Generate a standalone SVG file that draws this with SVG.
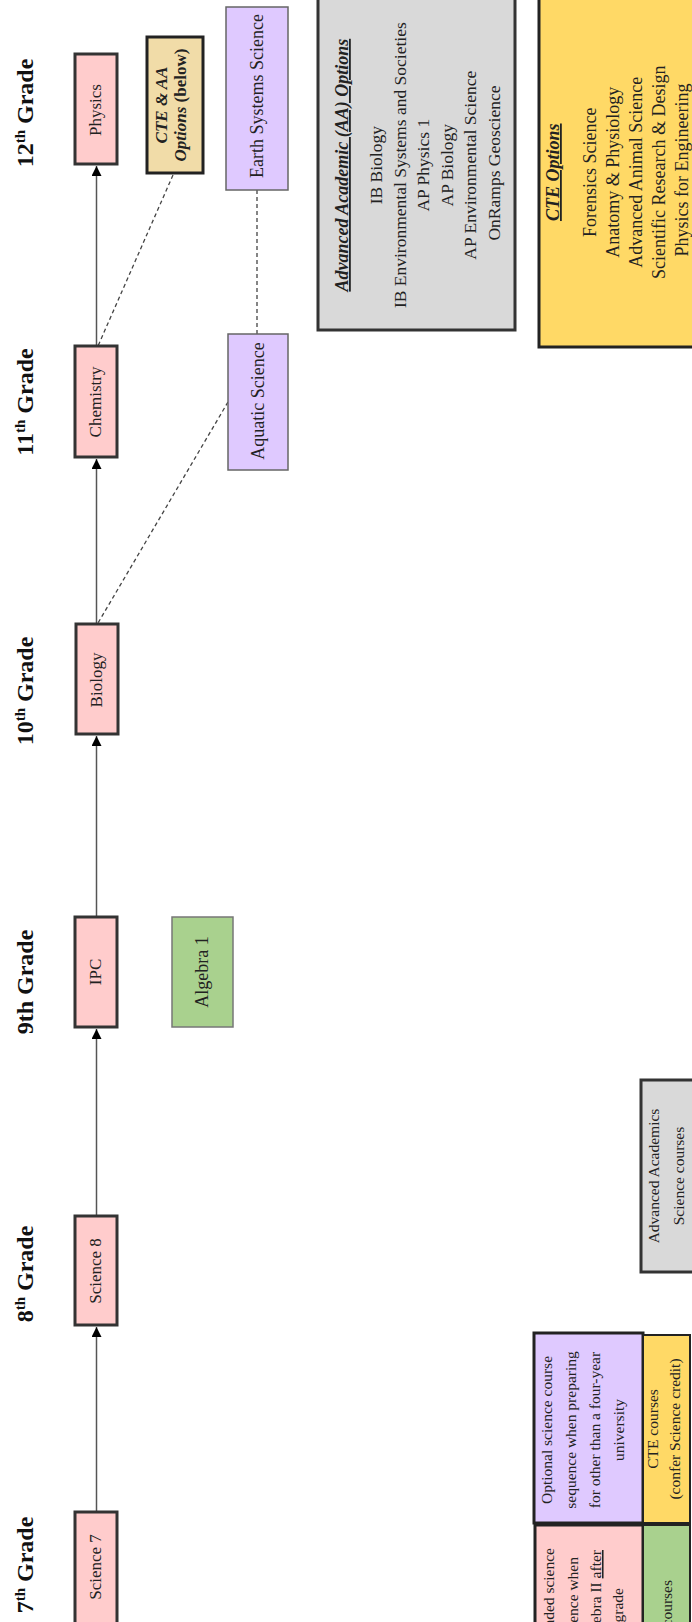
<svg xmlns="http://www.w3.org/2000/svg" width="692" height="1622" viewBox="0 0 692 1622">
<style>
text{font-family:"Liberation Serif","Times New Roman",serif;fill:#222}
.grade{font-weight:bold;font-size:24px;fill:#111}
.sup{font-size:15px}
.lbl{font-size:17px;text-anchor:middle}
.opt{font-size:18px;text-anchor:middle}
.leg{font-size:15.5px;text-anchor:middle}
.pink{fill:#ffcccc;stroke:#333;stroke-width:3}
.purple{fill:#dfc9ff;stroke:#666;stroke-width:1.5}
.green{fill:#a9d18e;stroke:#777;stroke-width:1.5}
.tan{fill:#f1dca8;stroke:#222;stroke-width:3}
.gray{fill:#d9d9d9;stroke:#333;stroke-width:3}
.yellow{fill:#ffd966;stroke:#222;stroke-width:3}
.conn{stroke:#555;stroke-width:1.5;fill:none}
.dash{stroke:#444;stroke-width:1.3;stroke-dasharray:4 3;fill:none}
.bi{font-weight:bold;font-style:italic}
.u{text-decoration:underline}
</style>
<defs>
<marker id="arr" markerUnits="userSpaceOnUse" markerWidth="10" markerHeight="10" refX="10" refY="5" orient="auto">
<path d="M0,0 L10,5 L0,10 z" fill="#000"/>
</marker>
</defs>

<g id="grades">
<text class="grade" text-anchor="middle" transform="translate(33,113) rotate(-90)">12<tspan class="sup" dy="-8">th</tspan><tspan dy="8"> Grade</tspan></text>
<text class="grade" text-anchor="middle" transform="translate(33,402) rotate(-90)">11<tspan class="sup" dy="-8">th</tspan><tspan dy="8"> Grade</tspan></text>
<text class="grade" text-anchor="middle" transform="translate(33,691) rotate(-90)">10<tspan class="sup" dy="-8">th</tspan><tspan dy="8"> Grade</tspan></text>
<text class="grade" text-anchor="middle" transform="translate(33,982) rotate(-90)">9th Grade</text>
<text class="grade" text-anchor="middle" transform="translate(33,1274) rotate(-90)">8<tspan class="sup" dy="-8">th</tspan><tspan dy="8"> Grade</tspan></text>
<text class="grade" text-anchor="middle" transform="translate(33,1565) rotate(-90)">7<tspan class="sup" dy="-8">th</tspan><tspan dy="8"> Grade</tspan></text>
</g>

<g id="connectors">
<line class="conn" x1="96.5" y1="1512" x2="96.5" y2="1327" marker-end="url(#arr)"/>
<line class="conn" x1="96.5" y1="1216" x2="96.5" y2="1029" marker-end="url(#arr)"/>
<line class="conn" x1="96.5" y1="917" x2="96.5" y2="736" marker-end="url(#arr)"/>
<line class="conn" x1="96.5" y1="624" x2="96.5" y2="459" marker-end="url(#arr)"/>
<line class="conn" x1="96.5" y1="346" x2="96.5" y2="166" marker-end="url(#arr)"/>
<line class="dash" x1="173" y1="175" x2="98" y2="346"/>
<line class="dash" x1="228" y1="402" x2="98" y2="623"/>
<line class="dash" x1="257" y1="190" x2="257" y2="334"/>
</g>

<g id="physics"><rect class="pink" x="75" y="54" width="42" height="110"/>
<text class="lbl" transform="translate(101,110) rotate(-90)">Physics</text></g>
<g id="chemistry"><rect class="pink" x="75" y="346" width="42" height="111"/>
<text class="lbl" transform="translate(101,402) rotate(-90)">Chemistry</text></g>
<g id="biology"><rect class="pink" x="76" y="624" width="42" height="110"/>
<text class="lbl" transform="translate(102,680) rotate(-90)">Biology</text></g>
<g id="ipc"><rect class="pink" x="75" y="917" width="42" height="110"/>
<text class="lbl" transform="translate(101,972) rotate(-90)">IPC</text></g>
<g id="science8"><rect class="pink" x="75" y="1216" width="42" height="109"/>
<text class="lbl" transform="translate(101,1271) rotate(-90)">Science 8</text></g>
<g id="science7"><rect class="pink" x="75" y="1512" width="42" height="112"/>
<text class="lbl" transform="translate(101,1567) rotate(-90)">Science 7</text></g>

<g id="cte-aa"><rect class="tan" x="147" y="37" width="56" height="136"/>
<text class="lbl" transform="translate(0,105) rotate(-90)"><tspan class="bi" x="0" y="167">CTE &amp; AA</tspan><tspan x="0" y="186"><tspan class="bi">Options</tspan><tspan font-weight="bold"> (below)</tspan></tspan></text></g>

<g id="earth"><rect class="purple" x="226" y="7" width="62" height="183"/>
<text class="opt" transform="translate(263,96) rotate(-90)">Earth Systems Science</text></g>
<g id="aquatic"><rect class="purple" x="228" y="334" width="60" height="136"/>
<text class="opt" transform="translate(264,401) rotate(-90)">Aquatic Science</text></g>
<g id="algebra1"><rect class="green" x="172" y="917" width="61" height="110"/>
<text class="opt" transform="translate(208,972) rotate(-90)">Algebra 1</text></g>

<g id="aa-options"><rect class="gray" x="318" y="-5" width="197" height="335"/>
<text transform="translate(0,163) rotate(-90)" text-anchor="middle" font-size="17.5">
<tspan class="bi u" x="0" y="348" font-size="18">Advanced Academic (AA) Options</tspan>
<tspan x="0" y="382">IB Biology</tspan>
<tspan x="0" y="405.5">IB Environmental Systems and Societies</tspan>
<tspan x="0" y="429">AP Physics 1</tspan>
<tspan x="0" y="452.5">AP Biology</tspan>
<tspan x="0" y="476">AP Environmental Science</tspan>
<tspan x="0" y="499.5">OnRamps Geoscience</tspan>
</text></g>

<g id="cte-options"><rect class="yellow" x="539" y="-5" width="160" height="352"/>
<text transform="translate(0,170) rotate(-90)" text-anchor="middle" font-size="18">
<tspan class="bi u" x="0" y="559">CTE Options</tspan>
<tspan x="0" y="596">Forensics Science</tspan>
<tspan x="0" y="619">Anatomy &amp; Physiology</tspan>
<tspan x="0" y="642">Advanced Animal Science</tspan>
<tspan x="0" y="665">Scientific Research &amp; Design</tspan>
<tspan x="0" y="688">Physics for Engineering</tspan>
</text></g>

<g id="legend-aa"><rect class="gray" x="641" y="1080" width="60" height="192"/>
<text class="leg" transform="translate(0,1176) rotate(-90)"><tspan x="0" y="659">Advanced Academics</tspan><tspan x="0" y="684">Science courses</tspan></text></g>

<g id="legend-optional"><rect class="purple" style="stroke:#222;stroke-width:3" x="534" y="1333" width="109" height="190"/>
<text class="leg" transform="translate(0,1430) rotate(-90)"><tspan x="0" y="552">Optional science course</tspan><tspan x="0" y="576">sequence when preparing</tspan><tspan x="0" y="600">for other than a four-year</tspan><tspan x="0" y="624">university</tspan></text></g>

<g id="legend-cte"><rect class="yellow" style="stroke-width:2" x="643" y="1335" width="47" height="188"/>
<text class="leg" transform="translate(0,1429) rotate(-90)"><tspan x="0" y="658">CTE courses</tspan><tspan x="0" y="680">(confer Science credit)</tspan></text></g>

<g id="legend-recommended"><rect class="pink" style="stroke:#222" x="535" y="1525" width="108" height="110"/>
<text font-size="15.5" text-anchor="end" transform="translate(0,0) rotate(-90)"><tspan x="-1548" y="554">Recommended science</tspan><tspan x="-1557" y="578">course sequence when</tspan><tspan x="-1550" y="601">taking Algebra II <tspan class="u">after</tspan></tspan><tspan x="-1588" y="623">9th grade</tspan></text></g>

<g id="legend-math"><rect class="green" style="stroke:#222;stroke-width:2" x="643" y="1525" width="47" height="110"/>
<text font-size="15.5" text-anchor="end" transform="rotate(-90)"><tspan x="-1580" y="672">Math courses</tspan></text></g>
</svg>
